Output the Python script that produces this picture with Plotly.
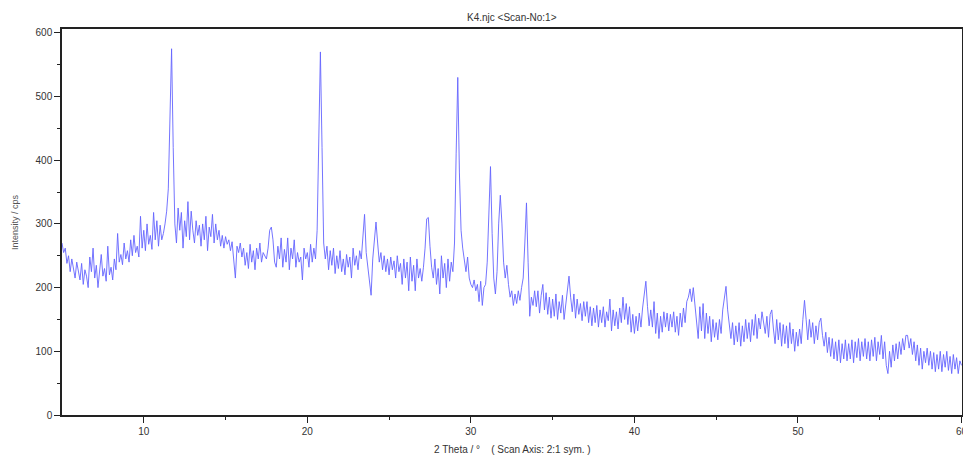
import plotly.graph_objects as go

# Scan grid (2-theta, degrees)
TWO_THETA_START = 5.0
TWO_THETA_STEP = 0.1

# Intensity / cps, one row per degree
intensity = [
    270, 255, 262, 238, 250, 225, 245, 232, 215, 240,
    222, 212, 238, 205, 228, 218, 200, 248, 225, 262,
    215, 235, 200, 228, 252, 218, 230, 210, 265, 220,
    232, 212, 245, 228, 285, 240, 252, 236, 270, 245,
    258, 240, 275, 250, 282, 255, 265, 248, 312, 262,
    290, 258, 300, 268, 282, 260, 318, 275, 305, 265,
    298, 275, 285, 300, 320, 355, 470, 575, 420, 300,
    270, 325, 290, 318, 262, 305, 280, 335, 275, 320,
    290, 270, 305, 282, 298, 265, 300, 275, 312, 258,
    295, 280, 315, 270, 300, 275, 290, 265, 282, 262,
    280, 268, 275, 258, 272, 240, 215, 265, 255, 270,
    248, 262, 235, 255, 230, 268, 240, 258, 228, 262,
    245, 270, 240, 255, 250, 245, 262, 290, 295, 275,
    240, 232, 265, 245, 278, 232, 260, 240, 278, 228,
    262, 245, 275, 232, 255, 240, 248, 212, 262, 245,
    255, 232, 268, 240, 262, 245, 290, 450, 570, 420,
    270, 245, 265, 228, 258, 235, 262, 222, 250, 230,
    258, 225, 245, 220, 252, 232, 248, 215, 262, 235,
    250, 228, 258, 245, 290, 315, 255, 235, 212, 188,
    245, 275, 303, 270, 240, 255, 228, 250, 225, 245,
    220, 248, 228, 242, 215, 250, 225, 238, 205, 245,
    215, 240, 195, 248, 210, 235, 195, 245, 215, 230,
    210, 232, 262, 308, 310, 265, 232, 215, 245, 205,
    230, 190, 250, 215, 238, 200, 245, 210, 240, 225,
    270, 410, 530, 380, 290, 262, 245, 225, 248, 215,
    205, 200, 212, 195, 205, 178, 210, 172, 200, 205,
    240, 330, 390, 285, 215, 190, 225, 300, 345, 300,
    240, 215, 235, 205, 185, 195, 172, 190, 175, 195,
    180, 200, 215, 270, 333, 240, 155, 185, 172, 195,
    170, 195, 160, 188, 205, 165, 192, 158, 185, 152,
    182, 155, 190, 150, 178, 160, 188, 150, 172, 195,
    218, 185, 162, 190, 152, 182, 158, 175, 148, 178,
    155, 178, 145, 170, 140, 168, 145, 172, 138, 165,
    145, 170, 138, 162, 148, 182, 132, 165, 140, 162,
    135, 168, 145, 185, 150, 175, 142, 170, 130, 158,
    128, 155, 132, 160, 138, 168, 195, 210, 170, 140,
    165, 138, 178, 128, 160, 120, 155, 130, 162, 138,
    160, 132, 158, 138, 162, 130, 155, 125, 160, 138,
    168, 145, 178, 185, 198, 178, 200, 170, 145, 120,
    170, 132, 175, 120, 160, 128, 155, 115, 150, 122,
    145, 118, 150, 128, 165, 185, 202, 165, 138, 120,
    145, 110, 140, 115, 145, 108, 140, 115, 150, 120,
    145, 115, 150, 125, 158, 120, 152, 135, 162, 145,
    128, 155, 122, 158, 165, 135, 112, 150, 118, 145,
    108, 142, 112, 140, 105, 145, 112, 135, 100, 130,
    108, 135, 112, 150, 180, 150, 118, 150, 122, 145,
    112, 140, 118, 145, 152, 125, 108, 130, 98, 122,
    92, 120, 88, 115, 85, 118, 82, 112, 88, 118,
    85, 112, 88, 118, 82, 115, 90, 120, 85, 115,
    92, 120, 88, 115, 85, 118, 92, 122, 85, 115,
    95, 125, 88, 115, 78, 65, 100, 75, 110, 85,
    112, 88, 115, 95, 120, 102, 125, 125, 105, 120,
    95, 115, 85, 110, 78, 105, 72, 100, 82, 105,
    78, 100, 72, 98, 68, 95, 72, 100, 68, 95,
    75, 100, 70, 92, 65, 95, 72, 90, 65, 85,
    78,
]

two_theta = [round(TWO_THETA_START + i * TWO_THETA_STEP, 2) for i in range(len(intensity))]

x_ticks = [10, 20, 30, 40, 50, 60]
y_ticks = [0, 100, 200, 300, 400, 500, 600]

fig = go.Figure()
fig.add_trace(go.Scatter(
    x=two_theta, y=intensity, mode="lines",
    line=dict(color="rgb(100,100,255)", width=0.9),
    hoverinfo="x+y", showlegend=False,
))

tick_font = dict(family="Liberation Sans, Arial, sans-serif", size=10, color="#333333")

fig.update_layout(
    width=963, height=456,
    margin=dict(l=62, r=1, t=29, b=41),
    paper_bgcolor="white", plot_bgcolor="white",
    showlegend=False,
    xaxis=dict(
        range=[5, 60.03], tickvals=x_ticks, ticktext=[str(v) for v in x_ticks],
        showgrid=False, zeroline=False, automargin=False,
        showline=True, linecolor="#222222", linewidth=1.5, mirror=True,
        ticks="outside", ticklen=6, tickwidth=1.2, tickcolor="#222222",
        minor=dict(tickvals=[15, 25, 35, 45, 55], ticks="outside", ticklen=3,
                   tickwidth=1.2, tickcolor="#222222"),
        tickfont=tick_font, ticklabeloverflow="allow",
    ),
    yaxis=dict(
        range=[0, 606], tickvals=y_ticks, ticktext=[str(v) for v in y_ticks],
        showgrid=False, zeroline=False, automargin=False,
        showline=True, linecolor="#222222", linewidth=1.5, mirror=True,
        ticks="outside", ticklen=6, tickwidth=1.2, tickcolor="#222222",
        minor=dict(tickvals=[50, 150, 250, 350, 450, 550], ticks="outside", ticklen=3,
                   tickwidth=1.2, tickcolor="#222222"),
        tickfont=tick_font,
    ),
    annotations=[
        dict(text="K4.njc &lt;Scan-No:1&gt;", xref="paper", yref="paper",
             x=0.5, y=1 + 11 / 386, xanchor="center", yanchor="middle",
             showarrow=False, font=dict(family="Liberation Sans, Arial, sans-serif", size=10, color="#333333")),
        dict(text="2 Theta / \u00b0\u00a0\u00a0\u00a0\u00a0( Scan Axis: 2:1 sym. )", xref="paper", yref="paper",
             x=0.5, y=-34 / 386, xanchor="center", yanchor="middle",
             showarrow=False, font=dict(family="Liberation Sans, Arial, sans-serif", size=10, color="#333333")),
        dict(text="Intensity / cps", xref="paper", yref="paper",
             x=-47 / 900, y=0.5, xanchor="center", yanchor="middle", textangle=-90,
             showarrow=False, font=dict(family="Liberation Sans, Arial, sans-serif", size=9, color="#555555")),
    ],
)

fig.write_html("out.html")
